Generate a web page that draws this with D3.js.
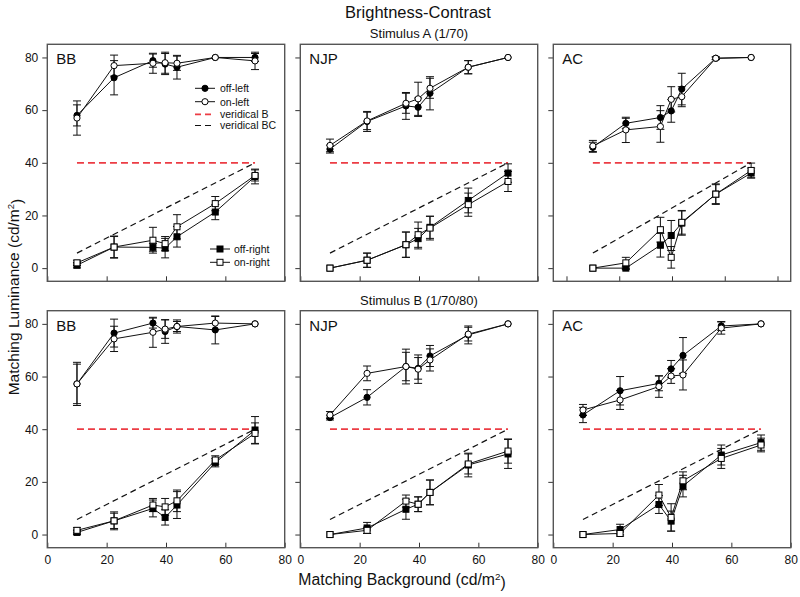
<!DOCTYPE html>
<html><head><meta charset="utf-8">
<script src="https://cdn.jsdelivr.net/npm/d3@7"></script>
<style>
body{margin:0;background:#fff;}
text{font-family:"Liberation Sans",Arial,sans-serif;fill:#111;}
</style>
</head><body>
<svg id="chart" width="800" height="597"></svg>
<script>
// ---------- DATA ----------
const xValues = [10, 22.5, 35.6, 39.7, 43.7, 56.6, 70];
const subjects = ["BB", "NJP", "AC"];
const stimuli = ["Stimulus A (1/70)", "Stimulus B (1/70/80)"];
const yTicks = [0, 20, 40, 60, 80];
const xTicks = [0, 20, 40, 60, 80];
const veridicalB = [[10, 40], [70, 40]];
const veridicalBC = [[10, 5.71], [70, 40]];

// Stimulus A
const A_BB_offLeft = [58, 72.3, 78.8, 77.5, 76.3, 80, 80];
const A_BB_offLeftErr = [4, 6.5, 2.5, 4, 4.5, 0, 1.5];
const A_BB_onLeft = [57, 76.9, 77.8, 78, 77.8, 80, 78.7];
const A_BB_onLeftErr = [6.5, 4, 3.8, 4, 2.7, 0, 3.3];
const A_BB_offRight = [1.1, 8.0, 7.9, 7.6, 11.9, 21.3, 34.8];
const A_BB_offRightErr = [1, 4, 1.5, 3.7, 3.9, 2.9, 2.8];
const A_BB_onRight = [2.0, 8.0, 10.6, 9.3, 15.7, 24.5, 35.2];
const A_BB_onRightErr = [1, 4.2, 4.9, 2.7, 4.6, 2.7, 2.1];

const A_NJP_offLeft = [45.2, 55.7, 61.6, 61.1, 66.4, 76.3, 80];
const A_NJP_offLeftErr = [1.5, 3.8, 5.1, 3.5, 6.3, 2.5, 0];
const A_NJP_onLeft = [46.6, 55.9, 62.6, 64.3, 68.3, 76.3, 80];
const A_NJP_onLeftErr = [2.4, 3.3, 3.8, 6.3, 3.8, 2.5, 0];
const A_NJP_offRight = [0, 3.0, 8.9, 11.2, 15.5, 25.7, 36.1];
const A_NJP_offRightErr = [0, 2.7, 4.8, 3.9, 4.2, 4.7, 3.5];
const A_NJP_onRight = [0, 3.0, 8.9, 12.7, 15.2, 24.1, 32.9];
const A_NJP_onRightErr = [0, 2.7, 4.8, 4.8, 4.5, 4.4, 3.8];

const A_AC_offLeft = [45.9, 55.0, 57.2, 59.7, 68.0, 79.7, 80];
const A_AC_offLeftErr = [1.9, 1.9, 4.5, 4.3, 6.0, 0.5, 0];
const A_AC_onLeft = [46.4, 52.5, 53.8, 64.1, 65.1, 79.7, 80];
const A_AC_onLeftErr = [2.1, 4.8, 6.0, 4.8, 3.8, 0.5, 0];
const A_AC_offRight = [0, 0, 8.7, 12.4, 17.1, 28.1, 36.1];
const A_AC_offRightErr = [0, 0.5, 4.5, 5.7, 4.6, 3.6, 1.9];
const A_AC_onRight = [0, 2.0, 14.6, 4.1, 17.4, 28.1, 37.1];
const A_AC_onRightErr = [0, 2.1, 4.7, 4.1, 4.5, 3.9, 2.8];

// Stimulus B
const B_BB_offLeft = [57.2, 76.5, 80.3, 77.1, 79.0, 77.7, 80];
const B_BB_offLeftErr = [8.2, 5.3, 1.9, 4.5, 1.9, 5.3, 0];
const B_BB_onLeft = [57.2, 74.3, 76.8, 78.0, 79.0, 80.3, 80];
const B_BB_onLeftErr = [7.5, 4.8, 5.7, 3.5, 2.5, 2.5, 0];
const B_BB_offRight = [0.8, 5.2, 9.9, 6.5, 11.2, 27.3, 39.7];
const B_BB_offRightErr = [0.8, 2.9, 3.2, 2.9, 5.1, 1.6, 5.1];
const B_BB_onRight = [1.6, 5.2, 11.2, 10.5, 12.8, 28.3, 38.4];
const B_BB_onRightErr = [1, 3.4, 2.5, 3.2, 4.1, 1.6, 4.0];

const B_NJP_offLeft = [44.4, 52.1, 63.8, 63.1, 67.8, 75.8, 80];
const B_NJP_offLeftErr = [0.9, 2.9, 5.4, 4.1, 4.0, 3.4, 0];
const B_NJP_onLeft = [45.4, 61.2, 63.8, 62.8, 66.3, 76.1, 80];
const B_NJP_onLeftErr = [1.3, 2.8, 6.6, 5.4, 4.2, 2.6, 0];
const B_NJP_offRight = [0, 2.5, 9.6, 11.5, 16.0, 26.4, 30.6];
const B_NJP_offRightErr = [0, 2.1, 3.8, 2.8, 4.7, 4.5, 5.5];
const B_NJP_onRight = [0, 1.6, 12.7, 11.5, 16.0, 26.8, 31.7];
const B_NJP_onRightErr = [0, 1.2, 2.3, 2.8, 4.7, 3.8, 4.6];

const B_AC_offLeft = [45.4, 54.6, 57.4, 62.9, 68.0, 79.2, 80];
const B_AC_offLeftErr = [2.9, 5.4, 2.8, 3.2, 6.8, 1.7, 0];
const B_AC_onLeft = [47.3, 51.1, 56.2, 60.2, 60.6, 78.4, 80];
const B_AC_onLeftErr = [2.1, 3.6, 4.1, 2.8, 5.7, 2.3, 0];
const B_AC_offRight = [0, 1.9, 11.4, 5.1, 18.4, 30.2, 34.9];
const B_AC_offRightErr = [0, 2.0, 3.4, 3.8, 4.1, 3.8, 2.9];
const B_AC_onRight = [0, 0.4, 15.0, 6.5, 20.4, 28.9, 34.0];
const B_AC_onRightErr = [0, 1.0, 4.0, 5.2, 3.4, 3.8, 2.6];

const panelData = [
  [
    [A_BB_offLeft, A_BB_offLeftErr, A_BB_onLeft, A_BB_onLeftErr, A_BB_offRight, A_BB_offRightErr, A_BB_onRight, A_BB_onRightErr],
    [A_NJP_offLeft, A_NJP_offLeftErr, A_NJP_onLeft, A_NJP_onLeftErr, A_NJP_offRight, A_NJP_offRightErr, A_NJP_onRight, A_NJP_onRightErr],
    [A_AC_offLeft, A_AC_offLeftErr, A_AC_onLeft, A_AC_onLeftErr, A_AC_offRight, A_AC_offRightErr, A_AC_onRight, A_AC_onRightErr]
  ],
  [
    [B_BB_offLeft, B_BB_offLeftErr, B_BB_onLeft, B_BB_onLeftErr, B_BB_offRight, B_BB_offRightErr, B_BB_onRight, B_BB_onRightErr],
    [B_NJP_offLeft, B_NJP_offLeftErr, B_NJP_onLeft, B_NJP_onLeftErr, B_NJP_offRight, B_NJP_offRightErr, B_NJP_onRight, B_NJP_onRightErr],
    [B_AC_offLeft, B_AC_offLeftErr, B_AC_onLeft, B_AC_onLeftErr, B_AC_offRight, B_AC_offRightErr, B_AC_onRight, B_AC_onRightErr]
  ]
];
// x domain per panel (top-right panel's axis is padded in the original)
const xDomains = [[[0, 80], [0, 80], [-5, 85]], [[0, 80], [0, 80], [0, 80]]];

// ---------- LAYOUT ----------
const svg = d3.select("#chart");
const colX = [47.3, 300.3, 553.3];
const rowY = [44.3, 310.7];
const boxW = 237.4, boxH = 237.0;
const red = "#ec3c44";

function addCdm2(sel, base) {
  sel.text(base);
  sel.append("tspan").text("2").attr("font-size", "0.62em").attr("dy", "-0.55em");
  sel.append("tspan").text(")").attr("dy", "0.55em");
}

svg.append("text").attr("x", 418).attr("y", 18).attr("text-anchor", "middle")
  .attr("font-size", 16.5).text("Brightness-Contrast");

stimuli.forEach((s, r) => {
  svg.append("text").attr("x", 419).attr("y", rowY[r] - 6).attr("text-anchor", "middle")
    .attr("font-size", 13).text(s);
});

svg.append("text").attr("transform", "translate(19,297) rotate(-90)")
  .attr("text-anchor", "middle").attr("font-size", 15.5)
  .call(addCdm2, "Matching Luminance (cd/m");
svg.append("text").attr("x", 402).attr("y", 585).attr("text-anchor", "middle")
  .attr("font-size", 15.8)
  .call(addCdm2, "Matching Background (cd/m");

for (let r = 0; r < 2; r++) {
  for (let c = 0; c < 3; c++) {
    const g = svg.append("g").attr("transform", `translate(${colX[c]},${rowY[r]})`);
    const x = d3.scaleLinear().domain(xDomains[r][c]).range([0, boxW]);
    const y = d3.scaleLinear().domain([-5, 85]).range([boxH, 0]);

    // axes
    const ya = g.append("g").attr("color", "#111")
      .call(d3.axisLeft(y).tickValues(yTicks).tickSize(5).tickSizeOuter(0).tickPadding(4));
    ya.select(".domain").remove();
    ya.selectAll("line").attr("stroke", "#333");
    ya.selectAll("text").attr("font-size", 12).attr("font-family", "Liberation Sans, Arial, sans-serif").attr("fill", "#111");
    if (c !== 0) ya.selectAll("text").remove();

    const xa = g.append("g").attr("color", "#111").attr("transform", `translate(0,${boxH})`)
      .call(d3.axisBottom(x).tickValues(xTicks).tickSize(-5).tickSizeOuter(0).tickPadding(8));
    xa.select(".domain").remove();
    xa.selectAll("line").attr("stroke", "#333");
    xa.selectAll("text").attr("font-size", 12).attr("font-family", "Liberation Sans, Arial, sans-serif").attr("fill", "#111");
    if (r !== 1) xa.selectAll("text").remove();

    // box
    g.append("rect").attr("width", boxW).attr("height", boxH)
      .attr("fill", "none").attr("stroke", "#555").attr("stroke-width", 1.4);

    // subject label
    g.append("text").attr("x", 9).attr("y", 20).attr("font-size", 15).text(subjects[c]);

    // veridical lines
    const line = d3.line().x(d => x(d[0])).y(d => y(d[1]));
    g.append("path").datum(veridicalB).attr("d", line).attr("fill", "none")
      .attr("stroke", red).attr("stroke-width", 1.8).attr("stroke-dasharray", "7,4");
    g.append("path").datum(veridicalBC).attr("d", line).attr("fill", "none")
      .attr("stroke", "#111").attr("stroke-width", 1.2).attr("stroke-dasharray", "6,4");

    const d = panelData[r][c];
    const series = [
      {v: d[0], e: d[1], shape: "circle", fill: "#000"},
      {v: d[2], e: d[3], shape: "circle", fill: "#fff"},
      {v: d[4], e: d[5], shape: "square", fill: "#000"},
      {v: d[6], e: d[7], shape: "square", fill: "#fff"}
    ];
    const sLine = d3.line().x(p => x(p.x)).y(p => y(p.y));
    series.forEach(s => {
      const pts = xValues.map((xv, i) => ({x: xv, y: s.v[i], e: s.e[i]}));
      g.append("path").datum(pts).attr("d", sLine).attr("fill", "none")
        .attr("stroke", "#111").attr("stroke-width", 1);
      const eb = g.append("g");
      pts.filter(p => p.e > 0).forEach(p => {
        eb.append("line").attr("x1", x(p.x)).attr("x2", x(p.x))
          .attr("y1", y(p.y - p.e)).attr("y2", y(p.y + p.e)).attr("stroke", "#111").attr("stroke-width", 1);
        [p.y - p.e, p.y + p.e].forEach(v => {
          eb.append("line").attr("x1", x(p.x) - 4).attr("x2", x(p.x) + 4)
            .attr("y1", y(v)).attr("y2", y(v)).attr("stroke", "#111").attr("stroke-width", 1);
        });
      });
    });
    series.forEach(s => {
      const pts = xValues.map((xv, i) => ({x: xv, y: s.v[i]}));
      if (s.shape === "circle") {
        g.append("g").selectAll("circle").data(pts).join("circle")
          .attr("cx", p => x(p.x)).attr("cy", p => y(p.y)).attr("r", 3.1)
          .attr("fill", s.fill).attr("stroke", "#000").attr("stroke-width", 1);
      } else {
        g.append("g").selectAll("rect").data(pts).join("rect")
          .attr("x", p => x(p.x) - 3).attr("y", p => y(p.y) - 3)
          .attr("width", 6).attr("height", 6)
          .attr("fill", s.fill).attr("stroke", "#000").attr("stroke-width", 1);
      }
    });

    // legends in top-left panel
    if (r === 0 && c === 0) {
      const lg = svg.append("g").attr("font-size", 10.5);
      const items = [
        {y: 88.3, label: "off-left", type: "circle", fill: "#000", x0: 195, x1: 215, tx: 220},
        {y: 101.7, label: "on-left", type: "circle", fill: "#fff", x0: 195, x1: 215, tx: 220},
        {y: 114.3, label: "veridical B", type: "dashR", x0: 195, x1: 215, tx: 220},
        {y: 125.5, label: "veridical BC", type: "dashK", x0: 195, x1: 215, tx: 220},
        {y: 249, label: "off-right", type: "square", fill: "#000", x0: 210, x1: 230, tx: 234},
        {y: 262.3, label: "on-right", type: "square", fill: "#fff", x0: 210, x1: 230, tx: 234}
      ];
      items.forEach(it => {
        const ln = lg.append("line").attr("x1", it.x0).attr("x2", it.x1).attr("y1", it.y).attr("y2", it.y);
        if (it.type === "dashR") ln.attr("stroke", red).attr("stroke-width", 1.8).attr("stroke-dasharray", "6,4");
        else if (it.type === "dashK") ln.attr("stroke", "#111").attr("stroke-width", 1.2).attr("stroke-dasharray", "6,4");
        else ln.attr("stroke", "#111").attr("stroke-width", 1);
        const mx = (it.x0 + it.x1) / 2;
        if (it.type === "circle") lg.append("circle").attr("cx", mx).attr("cy", it.y).attr("r", 3.1)
          .attr("fill", it.fill).attr("stroke", "#000");
        if (it.type === "square") lg.append("rect").attr("x", mx - 3).attr("y", it.y - 3).attr("width", 6).attr("height", 6)
          .attr("fill", it.fill).attr("stroke", "#000");
        lg.append("text").attr("x", it.tx).attr("y", it.y + 3.8).text(it.label);
      });
    }
  }
}
</script>
</body></html>
